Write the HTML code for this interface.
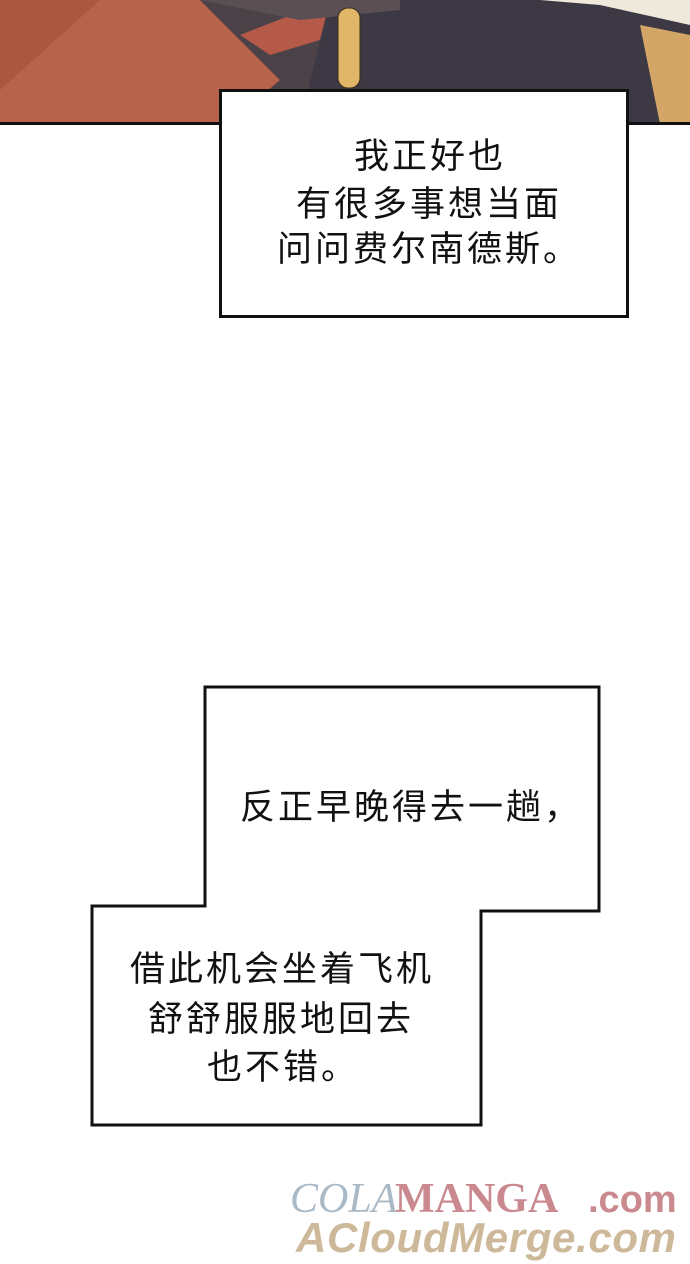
<!DOCTYPE html>
<html><head><meta charset="utf-8"><style>
body{margin:0;width:690px;height:1264px;background:#fff;overflow:hidden;position:relative;font-family:"Liberation Sans","Noto Sans CJK SC",sans-serif}
.t{position:absolute;font-size:35px;letter-spacing:3px;color:#111;white-space:nowrap;line-height:1}
</style></head><body>
<svg width="690" height="1264" style="position:absolute;left:0;top:0">
<rect x="0" y="0" width="690" height="124" fill="#3d3944"/>
<polygon points="0,0 200,0 280,80 230,124 0,124" fill="#b7634c"/>
<polygon points="0,0 100,0 0,90" fill="#a9573f"/>
<polygon points="200,0 330,0 300,124 230,124 280,80" fill="#4a4246"/>
<polygon points="240,35 330,0 320,40 270,55" fill="#b55a48"/>
<polygon points="200,0 400,0 400,10 300,20" fill="#5a5054"/>
<polygon points="540,0 690,0 690,25 600,5" fill="#efe9dc"/>
<polygon points="640,25 690,35 690,124 660,124 645,50" fill="#d3a667"/>
<rect x="338" y="8" width="22" height="80" rx="10" fill="#e0b768" stroke="#3a2a18" stroke-width="1"/>
<rect x="0" y="122" width="690" height="3" fill="#111"/>
<rect x="220.5" y="90.5" width="407" height="226" fill="#fff" stroke="#111" stroke-width="3"/>
<polygon points="205,687 599,687 599,911 481,911 481,1125 92,1125 92,906 205,906" fill="#fff" stroke="#111" stroke-width="3"/>
<text x="290" y="1212" font-family="Liberation Serif,serif" font-style="italic" font-size="42" fill="#a9b9c6">COLA</text>
<text x="395" y="1212" font-family="Liberation Serif,serif" font-weight="bold" font-size="42" fill="#c9898e">MANGA</text>
<text x="588" y="1212" font-family="Liberation Sans,sans-serif" font-weight="bold" font-size="38" fill="#c9898e">.com</text>
<text x="296" y="1252" font-family="Liberation Sans,sans-serif" font-weight="bold" font-style="italic" font-size="42" textLength="380" fill="#cdb89a">ACloudMerge.com</text>
</svg>
<div class="t" style="left:354px;top:139px">我正好也</div>
<div class="t" style="left:296px;top:187px">有很多事想当面</div>
<div class="t" style="left:277px;top:232px">问问费尔南德斯。</div>
<div class="t" style="left:240px;top:790px">反正早晚得去一趟，</div>
<div class="t" style="left:130px;top:952px">借此机会坐着飞机</div>
<div class="t" style="left:148px;top:1002px">舒舒服服地回去</div>
<div class="t" style="left:207px;top:1050px">也不错。</div>
</body></html>
